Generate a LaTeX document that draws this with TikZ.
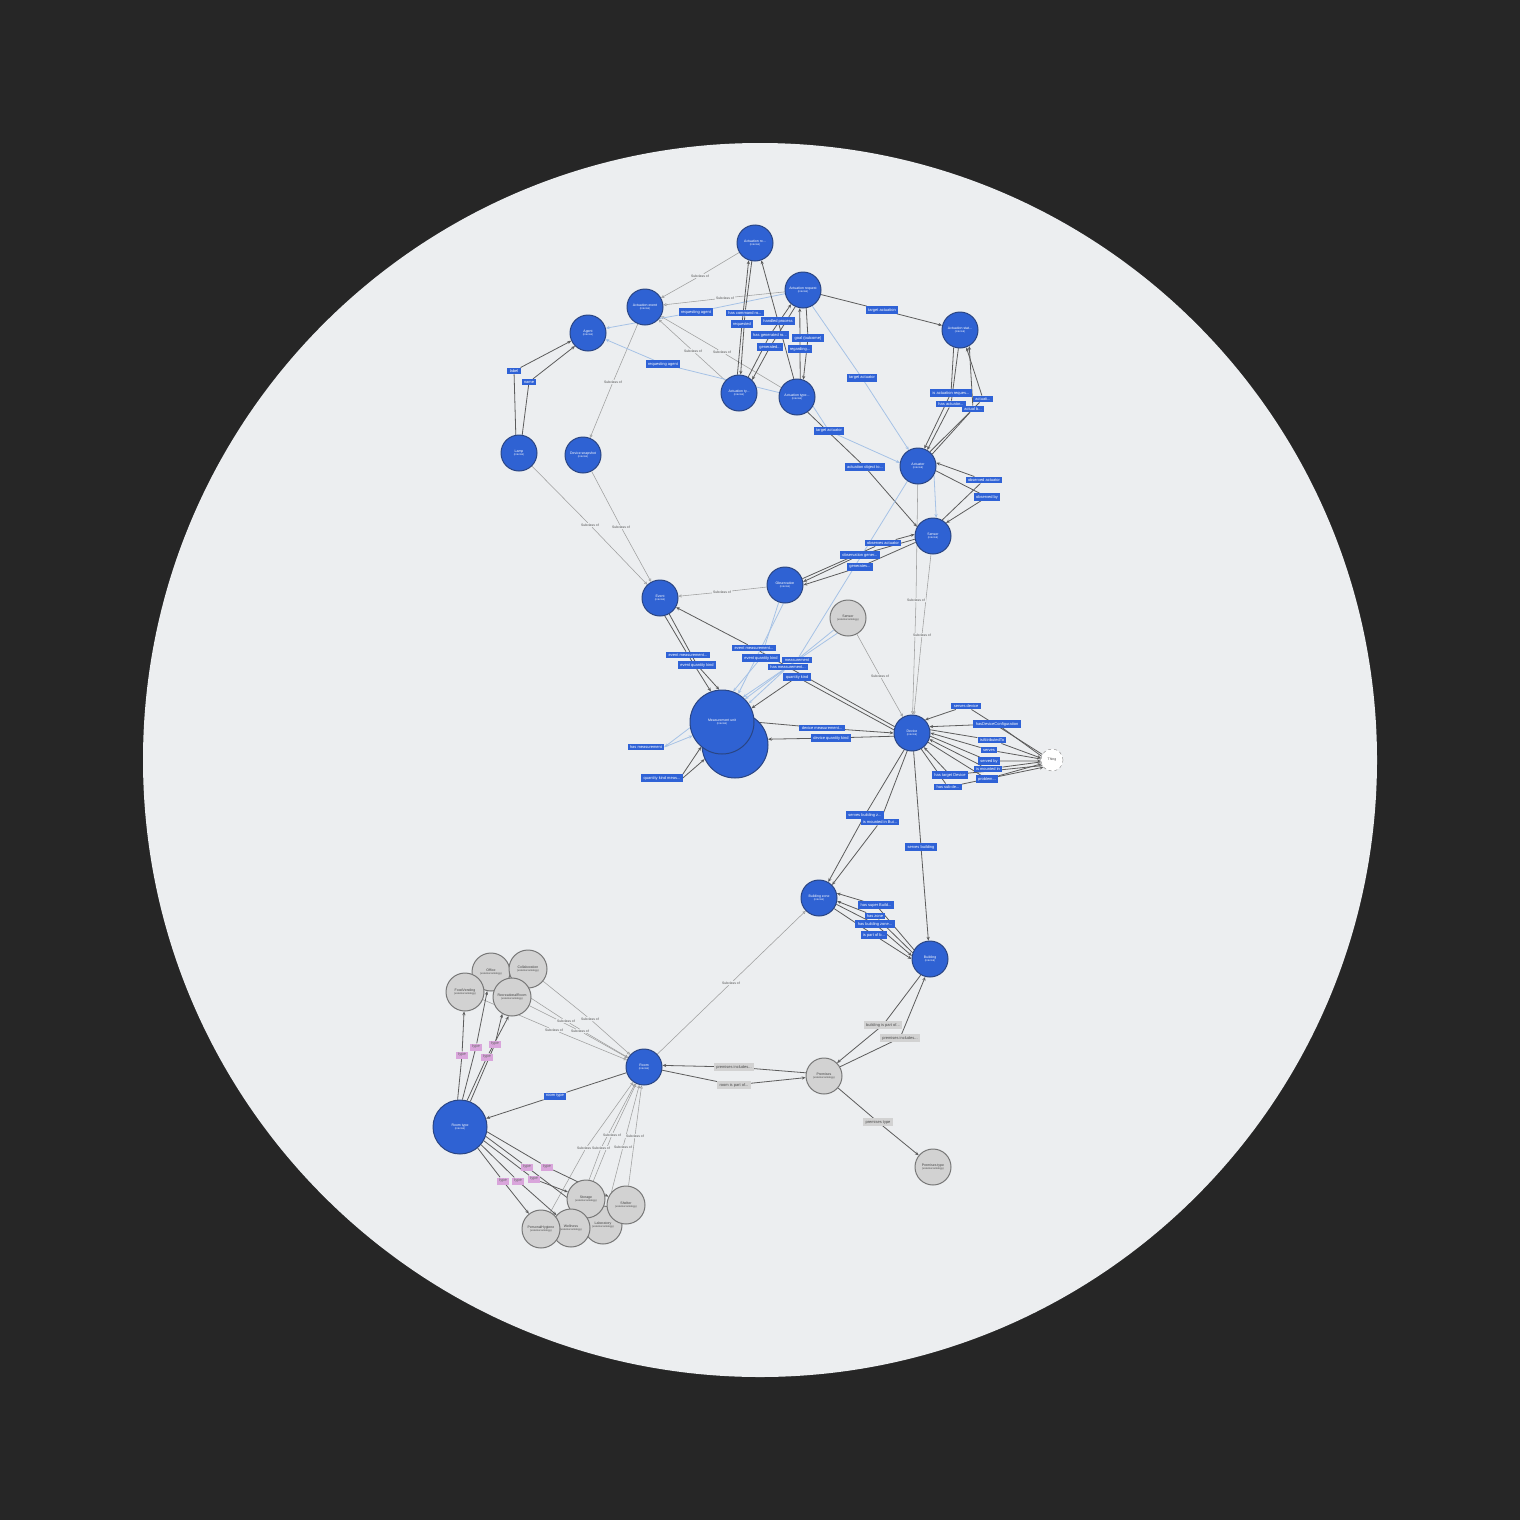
\documentclass[tikz,border=0pt]{standalone}
\usepackage{fontspec}
\setmainfont{Liberation Sans}
\usetikzlibrary{arrows.meta}
\pgfdeclarelayer{bg}\pgfdeclarelayer{edges}
\pgfsetlayers{bg,edges,main}
\definecolor{darkbg}{HTML}{262626}
\definecolor{disc}{HTML}{ECEEF0}
\definecolor{nblue}{HTML}{2F62D3}
\definecolor{nborder}{HTML}{2A4583}
\definecolor{lblue}{HTML}{2F62D6}
\definecolor{lineblue}{HTML}{A6C2E6}
\definecolor{gfill}{HTML}{D2D2D2}
\definecolor{gborder}{HTML}{777777}
\definecolor{pinkl}{HTML}{D9A5DB}
\definecolor{edgec}{HTML}{5C5C5C}
\newcommand\ntxt[2]{#1\\[-1pt]{\fontsize{2.6}{3}\selectfont #2}}
\tikzset{
 bnode/.style={circle, fill=nblue, draw=nborder, line width=1pt, minimum size=36pt, inner sep=0pt, text=white, align=center, font=\fontsize{3.5}{4}\selectfont},
 gnode/.style={bnode, fill=gfill, draw=gborder, text=black!75},
 lbl/.style={rectangle, fill=lblue, text=white, font=\fontsize{4}{4.5}\selectfont, inner xsep=2.3pt, inner ysep=1.8pt},
 glbl/.style={lbl, fill=gfill, text=black!70},
 plbl/.style={lbl, fill=pinkl, text=black!60, minimum width=12pt},
 sub/.style={rectangle, fill=disc, text=black!70, font=\fontsize{3.4}{3.8}\selectfont, inner sep=0.8pt},
 e/.style={draw=edgec, line width=0.8pt, -{Stealth[length=3.8pt,width=3.2pt]}},
 le/.style={draw=lineblue, line width=0.8pt, -{Stealth[length=3.8pt,width=3.2pt]}},
 se/.style={draw=gray!75, line width=0.55pt, -{Triangle[open,length=3pt,width=3pt]}},
}
\begin{document}
\begin{tikzpicture}[x=1pt,y=-1pt]
\begin{pgfonlayer}{bg}
\fill[darkbg] (0,0) rectangle (1520,1520);
\fill[disc] (760,760) circle (617pt);
\end{pgfonlayer}
\useasboundingbox (0,0) rectangle (1520,1520);

% ---------- class nodes ----------
\node[bnode] (a1) at (755,243) {\ntxt{Actuation ro...}{(internal)}};
\node[bnode] (a2) at (803,290) {\ntxt{Actuation request}{(internal)}};
\node[bnode] (a3) at (645,307) {\ntxt{Actuation event}{(internal)}};
\node[bnode] (agent) at (588,333) {\ntxt{Agent}{(internal)}};
\node[bnode] (a4) at (960,330) {\ntxt{Actuation stat...}{(internal)}};
\node[bnode] (a5) at (739,393) {\ntxt{Actuation ty...}{(internal)}};
\node[bnode] (a6) at (797,397) {\ntxt{Actuation type...}{(internal)}};
\node[bnode] (lamp) at (519,453) {\ntxt{Lamp}{(internal)}};
\node[bnode] (devsnap) at (583,455) {\ntxt{Device snapshot}{(internal)}};
\node[bnode] (actuator) at (918,466) {\ntxt{Actuator}{(internal)}};
\node[bnode] (sensor) at (933,536) {\ntxt{Sensor}{(internal)}};
\node[bnode] (event) at (660,598) {\ntxt{Event}{(internal)}};
\node[bnode] (obs) at (785,585) {\ntxt{Observation}{(internal)}};
\node[gnode] (gsensor) at (848,618) {\ntxt{Sensor}{(external ontology)}};
\node[bnode, minimum size=66pt] (mu2) at (735,745) {};
\node[bnode, minimum size=64pt] (mu) at (722,722) {\ntxt{Measurement unit}{(internal)}};
\node[bnode] (device) at (912,733) {\ntxt{Device}{(internal)}};
\node[circle, draw=gray, dashed, fill=white, minimum size=22pt, inner sep=0pt, text=black!70, font=\fontsize{3.5}{4}\selectfont] (thing) at (1052,760) {Thing};
\node[bnode] (bzone) at (819,898) {\ntxt{Building zone}{(internal)}};
\node[bnode] (building) at (930,959) {\ntxt{Building}{(internal)}};
\node[bnode] (room) at (644,1067) {\ntxt{Room}{(internal)}};
\node[bnode, minimum size=54pt] (roomtype) at (460,1127) {\ntxt{Room type}{(internal)}};
\node[gnode] (premises) at (824,1076) {\ntxt{Premises}{(external ontology)}};
\node[gnode] (ptype) at (933,1167) {\ntxt{Premises type}{(external ontology)}};
\node[gnode, minimum size=38pt] (office) at (491,972) {\ntxt{Office}{(external ontology)}};
\node[gnode, minimum size=38pt] (collab) at (528,969) {\ntxt{Collaboration}{(external ontology)}};
\node[gnode, minimum size=38pt] (food) at (465,992) {\ntxt{FoodVending}{(external ontology)}};
\node[gnode, minimum size=38pt] (recre) at (512,997) {\ntxt{RecreationalRoom}{(external ontology)}};
\node[gnode, minimum size=38pt] (lab) at (603,1225) {\ntxt{Laboratory}{(external ontology)}};
\node[gnode, minimum size=38pt] (storage) at (586,1199) {\ntxt{Storage}{(external ontology)}};
\node[gnode, minimum size=38pt] (shelter) at (626,1205) {\ntxt{Shelter}{(external ontology)}};
\node[gnode, minimum size=38pt] (util) at (571,1228) {\ntxt{Wellness}{(external ontology)}};
\node[gnode, minimum size=38pt] (hygiene) at (541,1229) {\ntxt{PersonalHygiene}{(external ontology)}};

% ---------- "Subclass of" labels ----------
\node[sub] (s1) at (700,276) {Subclass of};
\node[sub] (s2) at (725,298) {Subclass of};
\node[sub] (s3) at (693,351) {Subclass of};
\node[sub] (s4) at (722,352) {Subclass of};
\node[sub] (s5) at (613,382) {Subclass of};
\node[sub] (s6) at (590,525) {Subclass of};
\node[sub] (s7) at (621,527) {Subclass of};
\node[sub] (s8) at (722,592) {Subclass of};
\node[sub] (s9) at (880,676) {Subclass of};
\node[sub] (s10) at (916,600) {Subclass of};
\node[sub] (s11) at (922,635) {Subclass of};
\node[sub] (s12) at (731,983) {Subclass of};
\node[sub] (s13) at (590,1019) {Subclass of};
\node[sub] (s14) at (566,1021) {Subclass of};
\node[sub] (s15) at (554,1030) {Subclass of};
\node[sub] (s16) at (580,1031) {Subclass of};
\node[sub] (s17) at (586,1148) {Subclass of};
\node[sub] (s18) at (601,1148) {Subclass of};
\node[sub] (s19) at (612,1135) {Subclass of};
\node[sub] (s20) at (623,1147) {Subclass of};
\node[sub] (s21) at (635,1136) {Subclass of};

% ---------- property labels ----------
\node[lbl] (lab1) at (514,371) {label};
\node[lbl] (lab2) at (529,382) {name};
\node[lbl] (ra1) at (696,312) {requesting agent};
\node[lbl] (ra2) at (663,364) {requesting agent};
\node[lbl] (p1) at (745,313) {has command ro...};
\node[lbl] (p2) at (742,324) {requested};
\node[lbl] (p3) at (778,321) {handled process};
\node[lbl] (p4) at (770,335) {has generated ro...};
\node[lbl] (p5) at (770,347) {generated...};
\node[lbl] (p6) at (808,338) {goal (outcome)};
\node[lbl] (p7) at (800,349) {regarding...};
\node[lbl] (ta1) at (882,310) {target actuation};
\node[lbl] (ta2) at (862,378) {target actuator};
\node[lbl] (ta3) at (829,431) {target actuator};
\node[lbl] (aor) at (865,467) {actuation object to...};
\node[lbl] (aq1) at (951,393) {is actuation reques...};
\node[lbl] (aq2) at (983,399) {actuati...};
\node[lbl] (aq3) at (951,404) {has actuator...};
\node[lbl] (aq4) at (973,409) {actual b...};
\node[lbl] (oa) at (984,480) {observed actuator};
\node[lbl] (ob) at (987,497) {observed by};
\node[lbl] (so1) at (883,543) {observes actuator};
\node[lbl] (so2) at (860,555) {observation gener...};
\node[lbl] (so3) at (860,567) {generates...};
\node[lbl] (em1) at (688,655) {event measurement...};
\node[lbl] (eq1) at (697,665) {event quantity kind};
\node[lbl] (em2) at (754,648) {event measurement...};
\node[lbl] (eq2) at (761,658) {event quantity kind};
\node[lbl] (ms) at (797,660) {measurement};
\node[lbl] (hm2) at (788,667) {has measurement...};
\node[lbl] (qk2) at (797,677) {quantity kind};
\node[lbl] (hm) at (646,747) {has measurement};
\node[lbl] (qk) at (662,778) {quantity kind meas...};
\node[lbl] (dm) at (822,728) {device measurement...};
\node[lbl] (dq) at (831,738) {device quantity kind};
\node[lbl] (t1) at (966,706) {serves device};
\node[lbl] (t2) at (997,724) {hasDeviceConfiguration};
\node[lbl] (t3) at (992,740) {isAttributedTo};
\node[lbl] (t4) at (989,750) {serves};
\node[lbl] (t5) at (989,761) {served by};
\node[lbl] (t6) at (988,769) {is mounted in};
\node[lbl] (t7) at (987,779) {problem...};
\node[lbl] (t8) at (950,775) {has target Device};
\node[lbl] (t9) at (948,787) {has sub de...};
\node[lbl] (bz1) at (865,815) {serves building z...};
\node[lbl] (bz2) at (880,822) {is mounted in Bui...};
\node[lbl] (sb) at (921,847) {serves building};
\node[lbl] (z1) at (876,905) {has super Build...};
\node[lbl] (z2) at (875,916) {has zone};
\node[lbl] (z3) at (875,924) {has building zone...};
\node[lbl] (z4) at (874,935) {is part of b...};
\node[glbl] (g1) at (883,1025) {building is part of...};
\node[glbl] (g2) at (900,1038) {premises includes...};
\node[glbl] (g3) at (734,1067) {premises includes...};
\node[glbl] (g4) at (734,1085) {room is part of...};
\node[glbl] (g5) at (878,1122) {premises type};
\node[lbl] (rt) at (555,1096) {room type};
\node[plbl] (k1) at (462,1055) {type};
\node[plbl] (k2) at (476,1047) {type};
\node[plbl] (k3) at (487,1057) {type};
\node[plbl] (k4) at (495,1044) {type};
\node[plbl] (k5) at (503,1181) {type};
\node[plbl] (k6) at (518,1181) {type};
\node[plbl] (k7) at (534,1179) {type};
\node[plbl] (k8) at (527,1167) {type};
\node[plbl] (k9) at (547,1167) {type};

% ---------- connectors ----------
\begin{pgfonlayer}{edges}
% subclass
\draw[se] (a1) -- (s1) -- (a3);
\draw[se] (a2) -- (s2) -- (a3);
\draw[se] (a5) -- (s3) -- (a3);
\draw[se] (a6) -- (s4) -- (a3);
\draw[se] (a3) -- (s5) -- (devsnap);
\draw[se] (lamp) -- (s6) -- (event);
\draw[se] (devsnap) -- (s7) -- (event);
\draw[se] (obs) -- (s8) -- (event);
\draw[se] (gsensor) -- (s9) -- (device);
\draw[se] (actuator) -- (s10) -- (device);
\draw[se] (sensor) -- (s11) -- (device);
\draw[se] (room) -- (s12) -- (bzone);
\draw[se] (collab) -- (s13) -- (room);
\draw[se] (office) -- (s14) -- (room);
\draw[se] (food) -- (s15) -- (room);
\draw[se] (recre) -- (s16) -- (room);
\draw[se] (hygiene) -- (s17) -- (room);
\draw[se] (util) -- (s18) -- (room);
\draw[se] (storage) -- (s19) -- (room);
\draw[se] (lab) -- (s20) -- (room);
\draw[se] (shelter) -- (s21) -- (room);
% top cluster
\draw[e] (lamp.100) -- (lab1) -- (agent.205);
\draw[e] (lamp.80) -- (lab2) -- (agent.225);
\draw[le] (a2) -- (ra1) -- (agent.15);
\draw[le] (a6) -- (ra2) -- (agent.340);
\draw[e] (a1.260) -- (p1) -- (a5.85);
\draw[e] (a5.95) -- (p2) -- (a1.250);
\draw[e] (a6.100) -- (p3) -- (a1.290);
\draw[e] (a5.60) -- (p4) -- (a2.230);
\draw[e] (a2.245) -- (p5) -- (a5.45);
\draw[e] (a2.280) -- (p6) -- (a6.70);
\draw[e] (a6.80) -- (p7) -- (a2.260);
\draw[e] (a2) -- (ta1) -- (a4);
\draw[le] (a2.300) -- (ta2) -- (actuator.120);
\draw[le] (a6.330) -- (ta3) -- (actuator.170);
\draw[e] (a6.305) -- (aor) -- (sensor.150);
\draw[e] (a4.250) -- (aq1) -- (actuator.70);
\draw[e] (actuator.50) -- (aq2) -- (a4.290);
\draw[e] (a4.265) -- (aq3) -- (actuator.60);
\draw[e] (actuator.40) -- (aq4) -- (a4.300);
\draw[e] (sensor.60) -- (oa) -- (actuator.10);
\draw[e] (actuator.345) -- (ob) -- (sensor.45);
\draw[le] (actuator.330) -- (sensor.80);
\draw[e] (obs.20) -- (so1) -- (sensor.175);
\draw[e] (sensor.190) -- (so2) -- (obs.10);
\draw[e] (sensor.200) -- (so3) -- (obs.0);
% measurement
\draw[e] (event.285) -- (em1) -- (mu.110);
\draw[e] (event.300) -- (eq1) -- (mu.95);
\draw[e] (device.160) -- (em2) -- (event.330);
\draw[le] (obs.250) -- (eq2) -- (mu.70);
\draw[le] (obs.265) -- (mu.60);
\draw[le] (actuator.235) -- (ms) -- (mu.45);
\draw[le] (gsensor.220) -- (hm2) -- (mu.35);
\draw[le] (gsensor.235) -- (mu.50);
\draw[e] (device.170) -- (qk2) -- (mu.25);
\draw[le] (mu.190) -- (hm.east);
\draw[le] (hm.east) -- (mu.205);
\draw[e] (qk.north east) -- (mu.230);
\draw[e] (qk.east) -- (mu2.205);
\draw[e] (mu.0) -- (dm) -- (device.180);
\draw[e] (device.190) -- (dq) -- (mu2.10);
% device - thing
\draw[e] (thing.150) -- (t1) -- (device.45);
\draw[e] (thing.160) -- (t2) -- (device.20);
\draw[e] (device.10) -- (t3) -- (thing.170);
\draw[e] (thing.175) -- (t4) -- (device.0);
\draw[e] (device.350) -- (t5) -- (thing.185);
\draw[e] (thing.190) -- (t6) -- (device.340);
\draw[e] (device.330) -- (t7) -- (thing.200);
\draw[e] (thing.210) -- (t8) -- (device.310);
\draw[e] (device.300) -- (t9) -- (thing.220);
% building
\draw[e] (device.245) -- (bz1) -- (bzone.60);
\draw[e] (device.255) -- (bz2) -- (bzone.45);
\draw[e] (device.275) -- (sb) -- (building.95);
\draw[e] (building.150) -- (z1) -- (bzone.15);
\draw[e] (building.160) -- (z2) -- (bzone.350);
\draw[e] (bzone.340) -- (z3) -- (building.170);
\draw[e] (bzone.325) -- (z4) -- (building.180);
\draw[e] (building.240) -- (g1) -- (premises.45);
\draw[e] (premises.30) -- (g2) -- (building.255);
\draw[e] (premises.170) -- (g3) -- (room.5);
\draw[e] (room.350) -- (g4) -- (premises.185);
\draw[e] (premises) -- (g5) -- (ptype);
\draw[e] (room) -- (rt) -- (roomtype);
% room types
\draw[e] (roomtype.95) -- (k1) -- (food);
\draw[e] (roomtype.85) -- (k2) -- (office);
\draw[e] (roomtype.75) -- (k3) -- (recre.260);
\draw[e] (roomtype.68) -- (k4) -- (recre.240);
\draw[e] (roomtype.310) -- (k5) -- (hygiene);
\draw[e] (roomtype.320) -- (k6) -- (util);
\draw[e] (roomtype.330) -- (k7) -- (storage);
\draw[e] (roomtype.340) -- (k8) -- (lab);
\draw[e] (roomtype.350) -- (k9) -- (shelter);
\end{pgfonlayer}
\end{tikzpicture}
\end{document}
